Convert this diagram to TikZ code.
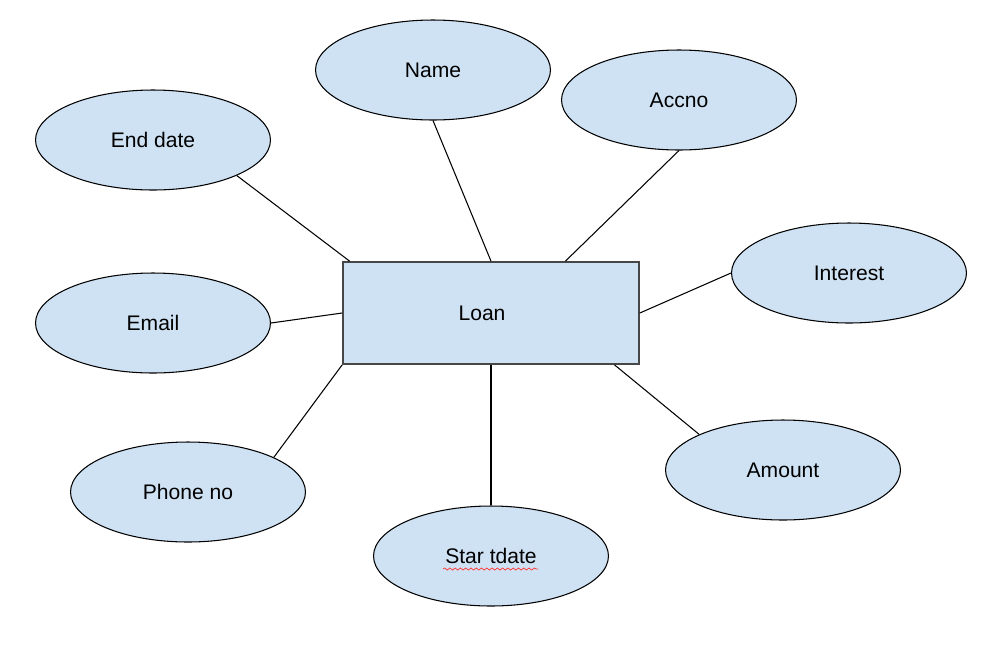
\documentclass[tikz,border=0pt]{standalone}
\usepackage{fontspec}
\setmainfont{Liberation Sans}
\usetikzlibrary{calc,shapes.geometric,decorations.pathmorphing}
\definecolor{attrblue}{HTML}{CFE2F3}
\definecolor{boxedge}{HTML}{474747}

\begin{document}
\begin{tikzpicture}[x=0.02cm, y=-0.02cm,
    every node/.style={font=\fontsize{12}{14}\selectfont},
    attr/.style={ellipse, draw, line width=0.6pt, fill=attrblue, minimum width=4.7cm, minimum height=2cm},
    entity/.style={rectangle, draw=boxedge, line width=1pt, fill=attrblue, minimum width=5.92cm, minimum height=2.04cm},
    link/.style={line width=0.6pt}]
    \fill[white] (0,0) rectangle (984,650);
    \useasboundingbox (0,0) rectangle (984,650);
    \node[entity] (loan) at (491,313) {\hspace*{-0.36cm}Loan};
    \node[attr] (name) at (433,70) {Name};
    \node[attr] (accno) at (679,100) {Accno};
    \node[attr] (enddate) at (153,140) {End date};
    \node[attr] (interest) at (849,273) {Interest};
    \node[attr] (email) at (153,323) {Email};
    \node[attr] (phone) at (188,492) {Phone no};
    \node[attr] (startdate) at (491,556) {Star tdate};
    \node[attr] (amount) at (783,470) {Amount};
    \draw[link] (name.south) -- (loan.north);
    \draw[link] (accno.south) -- ($(loan.north west)!0.75!(loan.north east)$);
    \draw[link] (enddate.-23) -- ($(loan.north west)!0.025!(loan.north east)$);
    \draw[link] (interest.west) -- (loan.east);
    \draw[link] (email.east) -- (loan.west);
    \draw[link] (phone.22) -- (loan.south west);
    \draw[link] (startdate.north) -- (loan.south);
    \draw[link] (amount.157) -- ($(loan.south west)!0.915!(loan.south east)$);
    % spell-check mark
    \draw[red!80, line width=0.4pt, decorate, decoration={snake, amplitude=0.6, segment length=3}]
        ($(startdate.center)+(-48,13)$) -- ($(startdate.center)+(47,13)$);
\end{tikzpicture}
\end{document}
